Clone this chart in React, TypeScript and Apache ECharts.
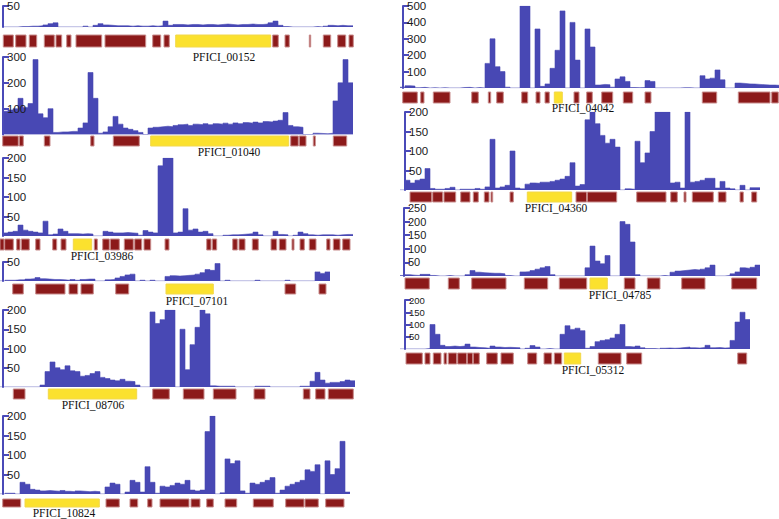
import React, { useEffect, useRef } from "react";
import * as echarts from "echarts";

// ---------- data: coverage (5-unit bins), exon blocks and gene blocks ----------
const names = ["PFICI_00152", "PFICI_01040", "PFICI_03986", "PFICI_07101", "PFICI_08706", "PFICI_10824", "PFICI_04042", "PFICI_04360", "PFICI_04785", "PFICI_05312"];

const cov00152 = [0,0,0,1,1,2,2,3,5,8,10,0,0,0,0,0,2,0,4,8,5,4,3,3,3,2,3,2,2,3,2,3,14,4,6,6,5,6,6,5,6,6,5,6,7,6,5,6,6,7,6,6,7,10,14,4,1,0,0,0,0,0,1,0,2,4,3,4,3,3];
const cov01040 = [90,95,100,140,105,120,290,80,65,100,8,10,10,12,12,25,45,240,140,5,10,30,70,40,25,20,15,8,0,25,28,30,32,30,35,38,40,35,40,38,42,38,42,40,44,40,45,42,46,44,48,45,50,48,52,55,85,35,30,28,0,0,5,4,3,5,130,200,290,200];
const cov03986 = [8,10,12,28,15,12,10,8,38,3,5,18,12,6,6,5,6,5,0,0,12,10,8,8,9,8,7,2,14,10,8,180,200,200,8,10,70,15,18,10,12,6,0,0,2,3,3,4,5,6,10,3,0,0,12,4,3,0,2,10,6,3,2,3,3,3,2,3,4,4];
const cov07101 = [0,2,2,3,3,5,6,9,6,5,4,4,3,2,4,2,4,5,5,0,0,3,4,8,12,16,18,0,2,0,2,0,0,12,14,13,14,15,16,18,22,30,28,46,0,2,0,0,0,0,0,2,0,0,0,0,0,2,0,0,0,0,0,24,20,24];
const cov08706 = [0,0,0,0,0,0,0,0,5,40,65,50,45,55,42,40,28,30,35,40,25,22,18,16,20,15,14,5,0,0,195,165,175,200,200,0,150,45,110,155,200,190,3,2,2,2,2,0,0,0,0,2,2,2,0,0,0,0,0,0,2,2,15,38,18,10,12,12,14,18,16];
const cov10824 = [0,2,2,0,30,25,12,10,8,9,8,7,9,7,6,8,7,6,7,6,0,18,28,25,0,5,35,30,5,70,30,2,20,18,22,28,25,35,10,8,10,160,200,0,3,90,78,85,8,2,28,25,30,35,42,2,10,20,25,30,35,62,58,75,0,85,50,65,135,5];
const cov04042 = [5,14,12,2,4,0,2,0,2,0,0,0,3,4,0,3,0,150,300,130,100,5,0,0,500,500,0,360,10,25,120,230,470,0,400,170,0,360,250,18,22,20,5,55,68,40,3,2,3,45,40,0,0,0,0,0,2,2,0,0,75,55,60,110,50,0,0,30,28,25,24,22,20,18,18,16];
const cov04360 = [0,25,18,25,28,55,4,2,2,4,7,0,2,2,2,4,2,8,130,5,8,12,100,5,3,15,18,17,20,20,22,25,28,35,70,10,14,180,200,170,140,120,130,110,0,3,2,125,70,95,150,200,200,200,18,20,5,200,20,22,25,30,30,5,22,5,3,0,12,0,6,6];
const cov04785 = [2,5,3,2,6,6,2,0,0,2,0,0,0,5,20,14,12,11,10,10,8,2,0,0,15,16,20,25,30,35,5,0,0,0,0,0,0,30,110,55,45,75,0,0,200,190,125,5,0,0,0,0,2,0,14,18,20,22,24,22,25,30,40,0,0,2,8,15,30,28,32,40];
const cov05312 = [0,0,0,0,0,2,100,60,15,10,12,10,12,20,8,6,5,3,12,8,6,7,6,5,0,3,14,8,0,2,0,0,60,95,80,85,75,3,10,30,35,38,45,60,100,10,8,12,5,2,2,0,3,4,3,4,6,8,5,4,6,15,5,6,4,5,35,110,150,120];

const covStarts = [3, 3, 3, 0, 0, 0, 0, 0, 0, 0];

const ex00152 = [[3.3,13.3],[15.7,26],[29.3,36.7],[44.3,54.3],[56,61.7],[66.7,71],[76,101.7],[105,145.7],[152.7,160.7],[164,169.3],[272.7,278.3],[285,289.3],[309.3,310.7],[323.3,330.7],[337.7,345.7],[349,353.3]];
const ex01040 = [[2.7,18.3],[19.3,23.3],[44.3,50],[90.7,94],[113.3,139.3],[290.7,298.3],[299.3,306],[313.3,315.3],[333.3,346.7]];
const ex03986 = [[0,4],[4.7,13.3],[16.7,20],[21.3,29.3],[35.7,40],[52.7,56.7],[61,66],[94.3,97.3],[102.7,109.3],[110.3,119.3],[124.3,133.3],[134.7,141.7],[144,150.7],[165,169],[206.7,211],[212.3,216.7],[232.7,237.3],[239,245],[252.3,258.3],[271,276.7],[279.3,286],[292,294],[300,304.3],[309.3,316],[326.7,330],[333.3,340],[342.7,350]];
const ex07101 = [[12.7,23.3],[35.7,65],[69,77.7],[81,93.3],[115.7,128.7],[285,295.7],[319,326]];
const ex08706 = [[13.3,25],[152.7,169.3],[183.3,204],[213.3,236],[254,265],[303.3,310],[315.7,325],[328.3,353.3]];
const ex10824 = [[2.7,20.7],[106,119.3],[130,137.7],[147.7,152],[160,189],[191,200],[206.7,213.3],[225,236.7],[253.3,273.3],[285.7,304],[305,318.3],[325.7,344]];
const ex04042 = [[2.7,17.3],[20.7,24],[33.3,50],[71.7,78.3],[88.3,90.7],[96.7,103.3],[121.7,127.7],[136,140],[145,149.3],[174,179],[186.7,192.3],[201.7,212.7],[223.3,232.7],[245,251],[302.3,316.7],[338.3,370],[371.7,378.3]];
const ex04360 = [[10,31.7],[32.7,42.7],[44,55.7],[60.7,70],[73.3,78.3],[84.3,89],[91,92.7],[110,113.3],[176,186.7],[187.3,216.7],[236.7,266],[270.7,277.3],[284,286],[292.3,313.3],[318.3,326],[340,343.3],[351.7,356.7]];
const ex04785 = [[5,29.3],[48.3,59.3],[71.7,106],[124.3,147.7],[159.3,186.7],[224.3,235],[247.3,260],[281.7,305],[331.7,356.7]];
const ex05312 = [[6,22.3],[25,30],[33.3,41],[44,46.7],[48.3,56.7],[57.7,66.7],[67.3,72.7],[73.3,79.3],[86.7,97.3],[101,113.3],[127.7,136.7],[144,151.7],[154.3,161.7],[198.3,221],[226.7,241.7],[337.7,346.7]];

const genes = [[175.7,270.7],[150.7,288.7],[73.3,91.7],[166,213.3],[48.3,136.7],[25,99.3],[154.3,162.3],[127.3,171.7],[190,207.3],[164.3,180.7]];

const yMaxes = [50, 300, 200, 50, 200, 200, 500, 200, 250, 200];
const ySteps = [50, 100, 50, 50, 50, 50, 100, 50, 50, 50];

const covs = [cov00152, cov01040, cov03986, cov07101, cov08706, cov10824, cov04042, cov04360, cov04785, cov05312];
const exons = [ex00152, ex01040, ex03986, ex07101, ex08706, ex10824, ex04042, ex04360, ex04785, ex05312];

// ---------- layout ----------
const BLUE = "#4848b4";
const AXIS = "#4a4ab8";
const RED = "#8c1a1a";
const RED_EDGE = "#c88c8c";
const YELLOW = "#fbe12e";

// [left, width, top, bottom, exTop, exBottom, axisX, labelX, labelY, tickFont]
const layout = [
  [0, 355, 2, 27, 35, 47, 3, 224, 57, 11.5],
  [0, 355, 57, 134.5, 136, 146, 3, 229, 152, 11.5],
  [0, 355, 158, 236, 239, 250, 3, 102, 256, 11.5],
  [0, 355, 262, 281, 284, 294, 3, 197, 301, 11.5],
  [0, 355, 310, 387, 389, 399, 3, 93, 405, 11.5],
  [0, 355, 416, 494, 499, 507, 3, 64, 513, 11.5],
  [400, 379, 4, 88, 92, 103, 403, 583, 108, 11.5],
  [400, 379, 112, 190, 192, 202, 405, 556, 208, 11.5],
  [400, 379, 208, 276, 278, 289, 404, 620, 295, 11],
  [400, 379, 300, 349, 353, 364, 405, 593, 370, 9.5],
];

function buildOption() {
  const grid: any[] = [];
  const xAxis: any[] = [];
  const yAxis: any[] = [];
  const series: any[] = [];
  const graphic: any[] = [];
  names.forEach((name, i) => {
    const [left, width, top, bottom, exTop, exBottom, axisX, labelX, labelY, tickFont] = layout[i];
    const g = 2 * i;
    grid.push({ left, width, top, height: bottom - top });
    grid.push({ left, width, top: exTop, height: exBottom - exTop });
    xAxis.push({ gridIndex: g, type: "value", min: 0, max: width, show: false });
    xAxis.push({ gridIndex: g + 1, type: "value", min: 0, max: width, show: false });
    const ticks: number[] = [];
    for (let v = ySteps[i]; v <= yMaxes[i]; v += ySteps[i]) ticks.push(v);
    yAxis.push({
      gridIndex: g,
      type: "value",
      min: 0,
      max: yMaxes[i],
      interval: ySteps[i],
      position: "left",
      offset: -(axisX - left),
      z: 10,
      splitLine: { show: false },
      axisLine: { show: true, lineStyle: { color: AXIS, width: 2 } },
      axisTick: { show: true, inside: true, length: 6, customValues: ticks, lineStyle: { color: AXIS, width: 2 } },
      axisLabel: {
        show: true,
        inside: true,
        margin: 4,
        customValues: ticks,
        formatter: (v: number) => (v === 0 ? "" : String(v)),
        color: "#1a1a1a",
        fontSize: tickFont,
        fontFamily: "Liberation Sans, Arial, sans-serif",
      },
    });
    yAxis.push({ gridIndex: g + 1, type: "value", min: 0, max: 1, show: false });

    const cov = covs[i];
    const st = covStarts[i];
    const pts: number[][] = cov.map((v, j) => [st + 5 * j, Math.min(v, yMaxes[i])]);
    pts.push([st + 5 * cov.length, Math.min(cov[cov.length - 1], yMaxes[i])]);
    series.push({
      type: "line",
      xAxisIndex: g,
      yAxisIndex: g,
      data: pts,
      step: "end",
      symbol: "none",
      lineStyle: { color: BLUE, width: 0.6 },
      areaStyle: { color: BLUE, opacity: 1 },
      silent: true,
    });

    const blocks = exons[i].map((b) => [b[0], b[1], 0]).concat([[genes[i][0], genes[i][1], 1]]);
    series.push({
      type: "custom",
      xAxisIndex: g + 1,
      yAxisIndex: g + 1,
      data: blocks,
      encode: { x: [0, 1] },
      silent: true,
      renderItem: (params: any, api: any) => {
        const s = api.value(0);
        const e = api.value(1);
        const k = api.value(2);
        const a = api.coord([s, 0]);
        const b = api.coord([e, 1]);
        return {
          type: "rect",
          shape: { x: a[0], y: b[1], width: b[0] - a[0], height: a[1] - b[1] },
          style: {
            fill: k ? YELLOW : RED,
            stroke: k ? "#f2d84a" : RED_EDGE,
            lineWidth: 1,
          },
        };
      },
    });

    graphic.push({
      type: "text",
      x: labelX,
      y: labelY,
      style: {
        text: name,
        fill: "#111",
        fontSize: 11.5,
        fontFamily: "Liberation Serif, Times New Roman, serif",
        align: "center",
        verticalAlign: "middle",
      },
    });
  });
  return { animation: false, backgroundColor: "#ffffff", grid, xAxis, yAxis, series, graphic };
}

export default function App() {
  const ref = useRef<HTMLDivElement>(null);
  useEffect(() => {
    document.body.style.margin = "0";
    if (!ref.current) return;
    const chart = echarts.init(ref.current, undefined, { renderer: "svg" });
    chart.setOption(buildOption() as any);
    return () => chart.dispose();
  }, []);
  return <div ref={ref} style={{ width: 779, height: 519 }} />;
}
